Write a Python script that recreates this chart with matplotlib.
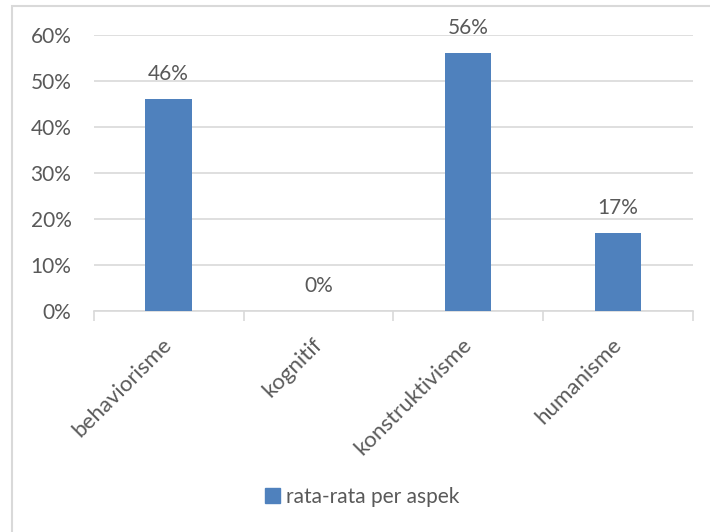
import matplotlib
matplotlib.use("Agg")
import matplotlib.pyplot as plt
import matplotlib.transforms as mtransforms
from matplotlib.patches import Rectangle, Patch
from matplotlib.ticker import FuncFormatter

categories = ["behaviorisme", "kognitif", "konstruktivisme", "humanisme"]
values = [0.46, 0.0, 0.56, 0.17]
yticks = [0.0, 0.1, 0.2, 0.3, 0.4, 0.5, 0.6]
series_name = "rata-rata per aspek"

bar_color = "#4F81BD"
text_color = "#595959"
grid_color = "#D9D9D9"

plt.rcParams['font.family'] = ['Lato', 'DejaVu Sans']
fs = 15

fig = plt.figure(figsize=(7.1, 5.32), dpi=100)
ax = fig.add_axes([0.132, 0.4154, 0.844, 0.5188])

# outer chart frame (only top and left visible in the reference)
fig.patches.append(Rectangle((12 / 710, -0.1), 1.2, 1 - 6 / 532 + 0.1,
                             transform=fig.transFigure, fill=False,
                             edgecolor=grid_color, linewidth=1.5))

x = range(len(categories))
bars = ax.bar(x, values, width=0.31, color=bar_color, zorder=3)

for xi, v in zip(x, values):
    ax.annotate(f"{v * 100:.0f}%", (xi, v), xytext=(0, 11), textcoords="offset points",
                ha="center", va="bottom", fontsize=fs, color=text_color)

ax.set_xlim(-0.5, len(categories) - 0.5)
ax.set_ylim(0, 0.6)
ax.set_yticks(yticks)
ax.yaxis.set_major_formatter(FuncFormatter(lambda v, p: f"{v * 100:.0f}%"))
ax.grid(axis="y", color=grid_color, linewidth=1.2, zorder=0)

# category separators on the x axis
ax.set_xticks([i - 0.5 for i in range(len(categories) + 1)], minor=False)
ax.set_xticklabels([])
ax.tick_params(axis="x", length=7, color=grid_color, width=1.2, direction="out")
ax.set_xticks(list(x), minor=True)
ax.set_xticklabels(categories, minor=True, rotation=45, ha="right", va="top",
                   rotation_mode="anchor", fontsize=16, color=text_color)
ax.tick_params(axis="x", which="minor", length=0, pad=17)
ax.tick_params(axis="y", length=0, labelsize=fs, labelcolor=text_color, pad=16)

# nudge the rotated labels a little to the left
shift = mtransforms.ScaledTranslation(-5 / 72, 0, fig.dpi_scale_trans)
for lab in ax.get_xticklabels(minor=True):
    lab.set_transform(lab.get_transform() + shift)

for s in ["top", "right", "left"]:
    ax.spines[s].set_visible(False)
ax.spines["bottom"].set_color(grid_color)
ax.spines["bottom"].set_linewidth(1.2)

fig.legend(handles=[Patch(color=bar_color, label=series_name)],
           loc="center", bbox_to_anchor=(0.51, 1 - 497 / 532), frameon=False,
           fontsize=fs, labelcolor=text_color, handlelength=0.7, handleheight=0.7,
           handletextpad=0.3)

fig.savefig("out.png", dpi=100)
